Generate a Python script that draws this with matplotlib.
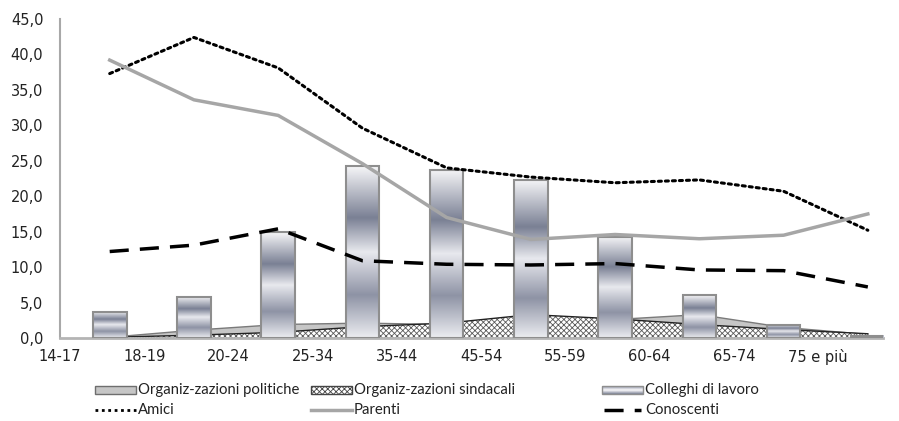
import numpy as np
import matplotlib
matplotlib.use('Agg')
import matplotlib.pyplot as plt
from matplotlib.colors import LinearSegmentedColormap
from matplotlib.patches import Rectangle

# Data (percent values)

categories = ['14-17', '18-19', '20-24', '25-34', '35-44',
              '45-54', '55-59', '60-64', '65-74', '75 e più']
politiche = [0.1, 1.1, 1.9, 2.1, 1.9, 2.8, 2.6, 3.3, 1.5, 0.5]
sindacali = [0.1, 0.4, 0.8, 1.6, 2.1, 3.3, 2.7, 1.9, 1.2, 0.6]
colleghi = [3.7, 5.8, 14.9, 24.2, 23.7, 22.3, 14.3, 6.0, 1.9, 0.3]
amici = [37.3, 42.4, 38.1, 29.6, 24.0, 22.7, 21.9, 22.3, 20.7, 15.2]
parenti = [39.2, 33.6, 31.4, 24.6, 17.0, 13.9, 14.6, 14.0, 14.5, 17.5]
conoscenti = [12.2, 13.1, 15.4, 10.9, 10.4, 10.3, 10.5, 9.6, 9.5, 7.2]

x = np.arange(len(categories))

plt.rcParams['hatch.linewidth'] = 0.6

fig = plt.figure(figsize=(8.99, 4.21), dpi=100)
ax = fig.add_axes([60 / 899, 1 - 338 / 421, (883 - 60) / 899, (338 - 19) / 421])

# Areas: politiche behind, sindacali (hatched) on top

ax.fill_between(x, 0, politiche, facecolor='#c6c6c6', edgecolor='none', zorder=2)
ax.plot(x, politiche, color='#7a7a7a', lw=1, zorder=2.1)
ax.fill_between(x, 0, sindacali, facecolor='white', edgecolor='#5a5a5a',
                hatch='xxxxxx', linewidth=0, zorder=2.2)
ax.plot(x, sindacali, color='#222222', lw=1, zorder=2.3)

# Gradient bars for Colleghi di lavoro

bar_cmap = LinearSegmentedColormap.from_list('bars', [
    (0.0, '#f6f6f8'), (0.3, '#7a8094'), (0.5, '#e8e9ee'),
    (0.75, '#8e93a5'), (1.0, '#ecedf1')])
grad = np.linspace(0, 1, 256).reshape(-1, 1)
bw = 0.4
bars = ax.bar(x, colleghi, width=bw, facecolor='none', edgecolor='#8e8e8e',
              lw=1.5, zorder=3.1)
for xi, h in zip(x, colleghi):
    ax.imshow(grad, extent=[xi - bw / 2, xi + bw / 2, 0, h], aspect='auto',
              cmap=bar_cmap, origin='upper', zorder=3, interpolation='bilinear')

# Lines

ax.plot(x, amici, color='black', lw=2.2, linestyle=(0, (1, 1.3)),
        dash_capstyle='round', zorder=4)
ax.plot(x, parenti, color='#a6a6a6', lw=2.5, zorder=4)
ax.plot(x, conoscenti, color='black', lw=2.5, linestyle=(0, (5.5, 3.2)), zorder=4)

ax.set_xlim(-0.506, 9.18)
ax.set_ylim(0, 45)

yt = np.arange(0, 46, 5)
ax.set_yticks(yt)
ax.set_yticklabels([f'{v:.1f}'.replace('.', ',') for v in yt])
ax.set_xticks(x - 0.59)
ax.set_xticklabels(categories)
ax.tick_params(axis='y', length=0, pad=12, labelsize=10.5, labelcolor='#222222')
ax.tick_params(axis='x', length=0, pad=8, labelsize=10.5, labelcolor='#222222')

for s in ['top', 'right']:
    ax.spines[s].set_visible(False)
ax.spines['left'].set_color('#a8a8a8')
ax.spines['left'].set_linewidth(1.5)
ax.spines['bottom'].set_color('#b4b4b4')
ax.spines['bottom'].set_linewidth(2)

# Legend drawn by hand in pixel coordinates

lax = fig.add_axes([0, 0, 1, 1], zorder=5)
lax.set_xlim(0, 899)
lax.set_ylim(421, 0)
lax.axis('off')

r1, r2 = 390, 410
cols = [95, 311, 602]
pw = 41

lax.add_patch(Rectangle((cols[0], r1 - 4), pw, 8, facecolor='#c6c6c6',
                        edgecolor='#6e6e6e', lw=1))
lax.add_patch(Rectangle((cols[1], r1 - 4), pw, 8, facecolor='white',
                        edgecolor='#444444', hatch='xxxxxx', lw=1))
leg_cmap = LinearSegmentedColormap.from_list('leg', [
    (0.0, '#8e93a5'), (0.45, '#f2f2f5'), (0.55, '#f2f2f5'), (1.0, '#7a8094')])
lax.imshow(grad, extent=[cols[2], cols[2] + pw, r1 + 4, r1 - 4], aspect='auto',
           cmap=leg_cmap, origin='upper', zorder=1)
lax.add_patch(Rectangle((cols[2], r1 - 4), pw, 8, facecolor='none',
                        edgecolor='#8e8e8e', lw=1, zorder=2))
lax.set_xlim(0, 899)
lax.set_ylim(421, 0)

lax.plot([cols[0], cols[0] + pw], [r2, r2], color='black', lw=2,
         linestyle=(0, (1, 1.3)))
lax.plot([cols[1], cols[1] + pw], [r2, r2], color='#a6a6a6', lw=2.5)
lax.plot([cols[2] + 2, cols[2] + pw - 2], [r2, r2], color='black', lw=2.5,
         linestyle=(0, (5.5, 3.2)))

labels_r1 = ['Organiz-zazioni politiche', 'Organiz-zazioni sindacali', 'Colleghi di lavoro']
labels_r2 = ['Amici', 'Parenti', 'Conoscenti']

# narrow legend text: shrink the font so the first label is ~161 px wide
lfont = dict(family='Lato', fontsize=11, color='#222222', va='center', ha='left')
probe = lax.text(0, 0, labels_r1[0], **lfont)
renderer = fig.canvas.get_renderer()
wpx = probe.get_window_extent(renderer).width
probe.remove()
lfont['fontsize'] = 11 * 161 / wpx

for c, t in zip(cols, labels_r1):
    lax.text(c + pw + 2, r1, t, **lfont)
for c, t in zip(cols, labels_r2):
    lax.text(c + pw + 2, r2, t, **lfont)

fig.savefig('out.png', dpi=100)
